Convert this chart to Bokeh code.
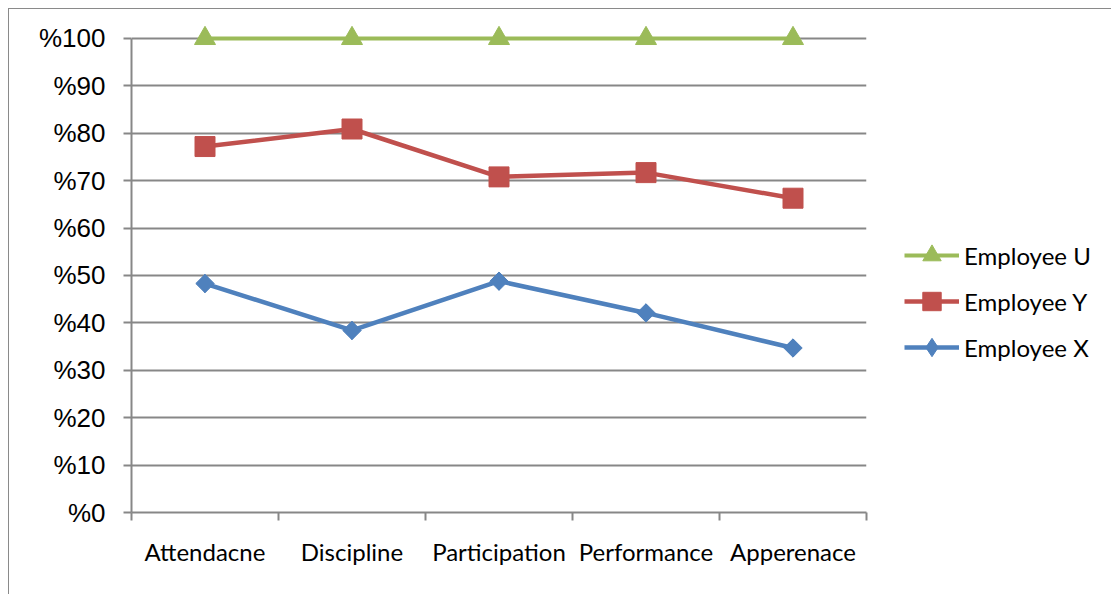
import math
from bokeh.plotting import figure
from bokeh.models import FixedTicker, Legend, LegendItem, Range1d
from bokeh.embed import file_html
from bokeh.resources import INLINE

categories = ["Attendacne", "Discipline", "Participation", "Performance", "Apperenace"]
employee_u = [100, 100, 100, 100, 100]
employee_y = [77.2, 80.9, 70.8, 71.7, 66.3]
employee_x = [48.3, 38.4, 48.8, 42.1, 34.7]
y_ticks = [0, 10, 20, 30, 40, 50, 60, 70, 80, 90, 100]

xs = [i + 0.5 for i in range(len(categories))]

# frame: 0..100 spans 474 px; extend range to 104 so top markers aren't clipped
p = figure(frame_width=735, frame_height=493, output_backend="svg", toolbar_location=None,
           x_range=Range1d(0, len(categories)), y_range=Range1d(0, 104),
           min_border_left=122, min_border_right=245, min_border_top=10, min_border_bottom=82)
p.styles = {"margin-left": "8px", "margin-top": "8px",
            "border-left": "1px solid #8a8a8a", "border-top": "1px solid #8a8a8a"}
p.outline_line_color = None
p.background_fill_color = "white"

GRID = "#878787"
# y axis
p.yaxis.ticker = FixedTicker(ticks=y_ticks)
p.yaxis.bounds = (0, 100)
p.yaxis.major_label_overrides = {t: "%" + str(t) for t in y_ticks}
p.yaxis.major_label_text_font = "Liberation Sans"
p.yaxis.major_label_text_font_size = "26px"
p.yaxis.major_label_text_color = "black"
p.yaxis.major_label_standoff = 18
p.yaxis.axis_line_color = GRID
p.yaxis.axis_line_width = 2
p.yaxis.major_tick_line_color = GRID
p.yaxis.major_tick_line_width = 2
p.yaxis.major_tick_out = 8
p.yaxis.major_tick_in = 0
p.yaxis.minor_tick_line_color = None

# x axis
p.xaxis.ticker = FixedTicker(ticks=xs, minor_ticks=list(range(len(categories) + 1)))
p.xaxis.major_label_overrides = {x: c for x, c in zip(xs, categories)}
p.xaxis.major_label_text_font = "Lato"
p.xaxis.major_label_text_font_size = "24px"
p.xaxis.major_label_text_color = "black"
p.xaxis.major_label_standoff = 16
p.xaxis.axis_line_color = GRID
p.xaxis.axis_line_width = 2
p.xaxis.major_tick_line_color = None
p.xaxis.major_tick_out = 0
p.xaxis.major_tick_in = 0
p.xaxis.minor_tick_line_color = GRID
p.xaxis.minor_tick_line_width = 2
p.xaxis.minor_tick_out = 8
p.xaxis.minor_tick_in = 0

p.xgrid.grid_line_color = None
p.ygrid.grid_line_color = GRID
p.ygrid.grid_line_width = 2

GREEN = "#9BBB59"
RED = "#C0504D"
BLUE = "#4F81BD"

lu = p.line(xs, employee_u, line_color=GREEN, line_width=4)
su = p.scatter(xs, employee_u, marker="triangle", size=21, fill_color=GREEN, line_color=GREEN)
ly = p.line(xs, employee_y, line_color=RED, line_width=4.5)
sy = p.scatter(xs, employee_y, marker="square", size=20, fill_color=RED, line_color=RED)
lx = p.line(xs, employee_x, line_color=BLUE, line_width=4.5)
# diamond (used by the legend) covered by a rotated square of the same colour
sx_d = p.scatter(xs, employee_x, marker="diamond", size=18, fill_color=BLUE, line_color=BLUE)
sx = p.scatter(xs, employee_x, marker="square", angle=math.pi / 4, size=13,
               fill_color=BLUE, line_color=BLUE)

legend = Legend(items=[
    LegendItem(label="Employee U", renderers=[lu, su]),
    LegendItem(label="Employee Y", renderers=[ly, sy]),
    LegendItem(label="Employee X", renderers=[lx, sx_d]),
], location=(38, 142))
legend.border_line_color = None
legend.background_fill_alpha = 0
legend.padding = 0
legend.margin = 0
legend.glyph_width = 55
legend.glyph_height = 46
legend.label_height = 24
legend.spacing = 0
legend.label_standoff = 5
legend.label_text_font = "Lato"
legend.label_text_font_size = "24px"
legend.label_text_color = "black"
p.add_layout(legend, "right")

open("out.html", "w").write(file_html(p, INLINE))
